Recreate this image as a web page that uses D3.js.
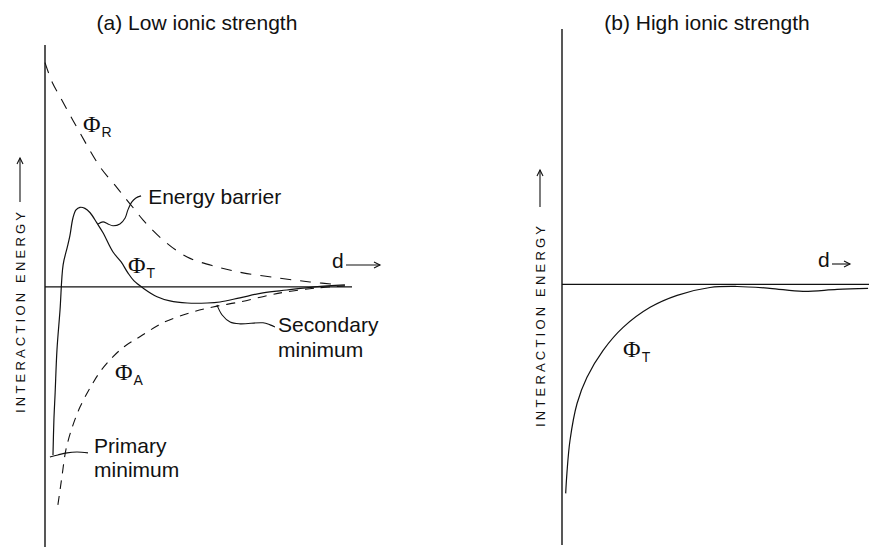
<!DOCTYPE html>
<html>
<head>
<meta charset="utf-8">
<script src="https://cdn.jsdelivr.net/npm/d3@7"></script>
<style>
  html, body { margin: 0; padding: 0; background: #fff; }
  svg { display: block; }
</style>
</head>
<body>
<svg id="chart" width="869" height="547"></svg>
<script>
// Interaction energy versus separation distance d (arbitrary units).
// Each series is a list of [d, energy] points.

// (a) Low ionic strength
const repulsionLow = [
  [0, 8.62], [0.23, 7.88], [0.49, 7.31], [0.81, 6.62], [1.14, 5.92], [1.79, 4.62],
  [2.35, 3.81], [2.61, 3.42], [2.93, 2.96], [3.19, 2.58], [3.84, 1.81], [4.63, 1.15],
  [5.60, 0.77], [6.45, 0.54], [7.56, 0.35], [8.63, 0.19], [9.61, 0.08]
];
const attractionLow = [
  [0.42, -8.38], [0.49, -7.81], [0.55, -7.31], [0.68, -6.27], [0.88, -5.42], [1.14, -4.62],
  [1.47, -3.88], [1.79, -3.27], [2.21, -2.69], [2.61, -2.27], [3.09, -1.92], [3.84, -1.38],
  [4.72, -1.00], [5.47, -0.77], [6.35, -0.58], [7.33, -0.31], [7.88, -0.19], [8.86, -0.04],
  [9.77, 0.04]
];
const totalLow = [
  [0.26, -6.46], [0.29, -5.12], [0.33, -4.08], [0.39, -2.42], [0.49, -0.88], [0.59, 0.85],
  [0.72, 1.50], [0.81, 1.96], [0.91, 2.65], [1.01, 2.96], [1.14, 3.06], [1.30, 3.02],
  [1.47, 2.85], [1.69, 2.46], [1.89, 2.08], [2.21, 1.35], [2.48, 0.96], [2.70, 0.54],
  [2.90, 0.23], [3.19, -0.04], [3.65, -0.38], [4.07, -0.54], [4.63, -0.62], [5.28, -0.62],
  [5.70, -0.58], [6.35, -0.42], [7.10, -0.23], [7.88, -0.12], [8.79, 0], [9.77, 0.08]
];

// (b) High ionic strength
const totalHigh = [
  [0.12, -8.02], [0.16, -7.25], [0.26, -5.99], [0.49, -4.57], [0.81, -3.57], [1.34, -2.53],
  [1.99, -1.65], [2.87, -0.88], [3.75, -0.42], [4.82, -0.12], [5.70, -0.08], [6.77, -0.15],
  [7.85, -0.27], [8.96, -0.19], [9.97, -0.15]
];

// Leader lines from the annotations to the curve features (panel a)
const barrierLeader = [
  [1.73, 2.42], [1.89, 2.50], [2.05, 2.42], [2.21, 2.35], [2.44, 2.42], [2.61, 2.65],
  [2.70, 2.96], [2.83, 3.27], [2.96, 3.42], [3.13, 3.50]
];
const secondaryLeader = [
  [5.60, -0.69], [5.77, -1.08], [6.03, -1.35], [6.35, -1.42], [7.10, -1.38], [7.33, -1.46],
  [7.49, -1.54]
];
const primaryLeader = [
  [0.16, -6.54], [0.42, -6.46], [0.72, -6.38], [1.04, -6.35], [1.40, -6.38]
];

const titles = ["(a) Low ionic strength", "(b) High ionic strength"];
const yAxisTitle = "INTERACTION ENERGY";

const sans = "'Liberation Sans', Arial, Helvetica, sans-serif";
const serif = "'Liberation Serif', 'Times New Roman', serif";
const ink = "#111";

const svg = d3.select("#chart");

// Scales for the two panels
const xA = d3.scaleLinear().domain([0, 10]).range([45, 352]);
const yA = d3.scaleLinear().domain([-10, 9.3]).range([547, 45]);
const xB = d3.scaleLinear().domain([0, 10]).range([562, 869]);
const yB = d3.scaleLinear().domain([-10, 9.8]).range([545, 29]);

function curve(xs, ys) {
  return d3.line()
    .x(d => xs(d[0]))
    .y(d => ys(d[1]))
    .curve(d3.curveCatmullRom.alpha(0.5));
}

function drawAxes(g, xs, ys) {
  const [y0, y1] = ys.domain();
  // energy axis
  g.append("line")
    .attr("x1", xs(0)).attr("x2", xs(0))
    .attr("y1", ys(y0)).attr("y2", ys(y1))
    .attr("stroke", ink).attr("stroke-width", 1.4);
  // zero-energy line
  g.append("line")
    .attr("x1", xs(0)).attr("x2", xs(10))
    .attr("y1", ys(0)).attr("y2", ys(0))
    .attr("stroke", ink).attr("stroke-width", 1.2);
}

function arrowHead(g, x, y, angle) {
  g.append("path")
    .attr("d", "M-6,-3 L0,0 L-6,3")
    .attr("transform", `translate(${x},${y}) rotate(${angle})`)
    .attr("fill", "none").attr("stroke", ink).attr("stroke-width", 1.1);
}

function energyLabel(g, cx, bottom) {
  g.append("text")
    .attr("transform", `translate(${cx + 5},${bottom}) rotate(-90)`)
    .attr("font-family", sans)
    .attr("font-size", 13)
    .attr("letter-spacing", 3.2)
    .attr("fill", ink)
    .text(yAxisTitle);
}

function distanceLabel(g, x, y, arrowLen) {
  g.append("text")
    .attr("x", x).attr("y", y)
    .attr("font-family", sans).attr("font-size", 21).attr("fill", ink)
    .text("d");
  g.append("line")
    .attr("x1", x + 14).attr("x2", x + 14 + arrowLen)
    .attr("y1", y - 3).attr("y2", y - 3)
    .attr("stroke", ink).attr("stroke-width", 1.1);
  arrowHead(g, x + 14 + arrowLen, y - 3, 0);
}

function phiLabel(g, x, y, sub) {
  const t = g.append("text").attr("x", x).attr("y", y).attr("fill", ink);
  t.append("tspan").attr("font-family", serif).attr("font-size", 24).text("\u03A6");
  t.append("tspan").attr("font-family", sans).attr("font-size", 14)
    .attr("dx", 1).attr("dy", 5).text(sub);
}

function multiLine(g, x, y, lines, gap) {
  lines.forEach((s, i) => {
    g.append("text")
      .attr("x", x).attr("y", y + i * gap)
      .attr("font-family", sans).attr("font-size", 21).attr("fill", ink)
      .text(s);
  });
}

// ---------- Panel (a) ----------
const gA = svg.append("g");
gA.append("text")
  .attr("x", 197).attr("y", 30)
  .attr("text-anchor", "middle")
  .attr("font-family", sans).attr("font-size", 21).attr("fill", ink)
  .text(titles[0]);

drawAxes(gA, xA, yA);

gA.append("path").datum(repulsionLow)
  .attr("d", curve(xA, yA))
  .attr("fill", "none").attr("stroke", ink).attr("stroke-width", 1.1)
  .attr("stroke-dasharray", "11,9");

gA.append("path").datum(attractionLow)
  .attr("d", curve(xA, yA))
  .attr("fill", "none").attr("stroke", ink).attr("stroke-width", 1.1)
  .attr("stroke-dasharray", "9,7");

gA.append("path").datum(totalLow)
  .attr("d", curve(xA, yA))
  .attr("fill", "none").attr("stroke", ink).attr("stroke-width", 1.2);

[barrierLeader, secondaryLeader, primaryLeader].forEach(pts => {
  gA.append("path").datum(pts)
    .attr("d", curve(xA, yA))
    .attr("fill", "none").attr("stroke", ink).attr("stroke-width", 1.1);
});

multiLine(gA, xA(3.36), yA(3.19), ["Energy barrier"], 25);
multiLine(gA, xA(7.59), yA(-1.73), ["Secondary", "minimum"], 25);
multiLine(gA, xA(1.6), yA(-6.38), ["Primary", "minimum"], 24);

phiLabel(gA, xA(1.24), yA(5.96), "R");
phiLabel(gA, xA(2.70), yA(0.54), "T");
phiLabel(gA, xA(2.28), yA(-3.58), "A");

distanceLabel(gA, 332, 268, 34);

energyLabel(gA, 20, 413);
gA.append("line")
  .attr("x1", 20).attr("x2", 20).attr("y1", 202).attr("y2", 158)
  .attr("stroke", ink).attr("stroke-width", 1.1);
arrowHead(gA, 20, 158, -90);

// ---------- Panel (b) ----------
const gB = svg.append("g");
gB.append("text")
  .attr("x", 707).attr("y", 30)
  .attr("text-anchor", "middle")
  .attr("font-family", sans).attr("font-size", 21).attr("fill", ink)
  .text(titles[1]);

drawAxes(gB, xB, yB);

gB.append("path").datum(totalHigh)
  .attr("d", curve(xB, yB))
  .attr("fill", "none").attr("stroke", ink).attr("stroke-width", 1.2);

phiLabel(gB, xB(1.99), yB(-2.79), "T");

distanceLabel(gB, 818, 267, 18);

energyLabel(gB, 540, 427);
gB.append("line")
  .attr("x1", 540).attr("x2", 540).attr("y1", 207).attr("y2", 170)
  .attr("stroke", ink).attr("stroke-width", 1.1);
arrowHead(gB, 540, 170, -90);
</script>
</body>
</html>
